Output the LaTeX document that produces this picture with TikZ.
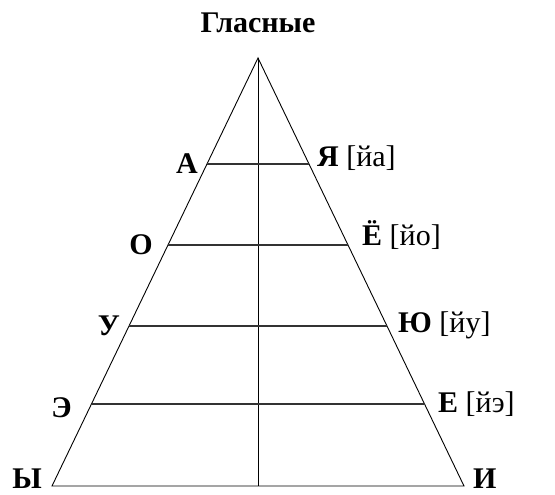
\documentclass[tikz,border=0pt]{standalone}
\usepackage{fontspec}
\setmainfont{Liberation Serif}
\usepackage{tikz}

\begin{document}
\begin{tikzpicture}[x=1pt, y=-1pt,
    every node/.style={inner sep=0pt, font=\fontsize{30}{36}\selectfont},
    izq/.style={anchor=base east, font=\fontsize{30}{36}\selectfont\bfseries},
    der/.style={anchor=base west},
    lado/.style={line width=0.9pt},
    franja/.style={line width=1.2pt, black!80}]
    \useasboundingbox (0,0) rectangle (555,495);

    % Vertices del triangulo
    \coordinate (cima) at (258,58);
    \coordinate (izqB) at (52,486);
    \coordinate (derB) at (464,486);
    \coordinate (base) at (258,486);

    % Extremos de las franjas
    \coordinate (a1) at (207,164);  \coordinate (b1) at (309,164);
    \coordinate (a2) at (168,245);  \coordinate (b2) at (348,245);
    \coordinate (a3) at (129,326);  \coordinate (b3) at (387,326);
    \coordinate (a4) at (91.5,404); \coordinate (b4) at (424.5,404);

    % Titulo
    \node[anchor=base, font=\fontsize{30}{36}\selectfont\bfseries] (titulo) at (258,33) {Гласные};

    % Letras de la izquierda
    \node[izq] (A) at (198,173) {А};
    \node[izq] (O) at (153,254) {О};
    \node[izq] (U) at (120,335) {У};
    \node[izq] (E) at (72,417) {Э};
    \node[izq] (Y) at (42,488) {Ы};

    % Letras de la derecha
    \node[der] (YA) at (317,167) {\textbf{Я} [йа]};
    \node[der] (YO) at (362,245) {\textbf{Ё} [йо]};
    \node[der] (YU) at (398,332) {\textbf{Ю} [йу]};
    \node[der] (YE) at (438,412) {\textbf{Е} [йэ]};
    \node[der] (I) at (473,488) {\textbf{И}};

    % Triangulo y eje
    \draw[lado] (izqB) -- (cima) -- (derB) -- cycle;
    \draw[lado] (cima) -- (base);

    % Franjas horizontales
    \draw[franja] (a1) -- (b1);
    \draw[franja] (a2) -- (b2);
    \draw[franja] (a3) -- (b3);
    \draw[franja] (a4) -- (b4);
\end{tikzpicture}
\end{document}
